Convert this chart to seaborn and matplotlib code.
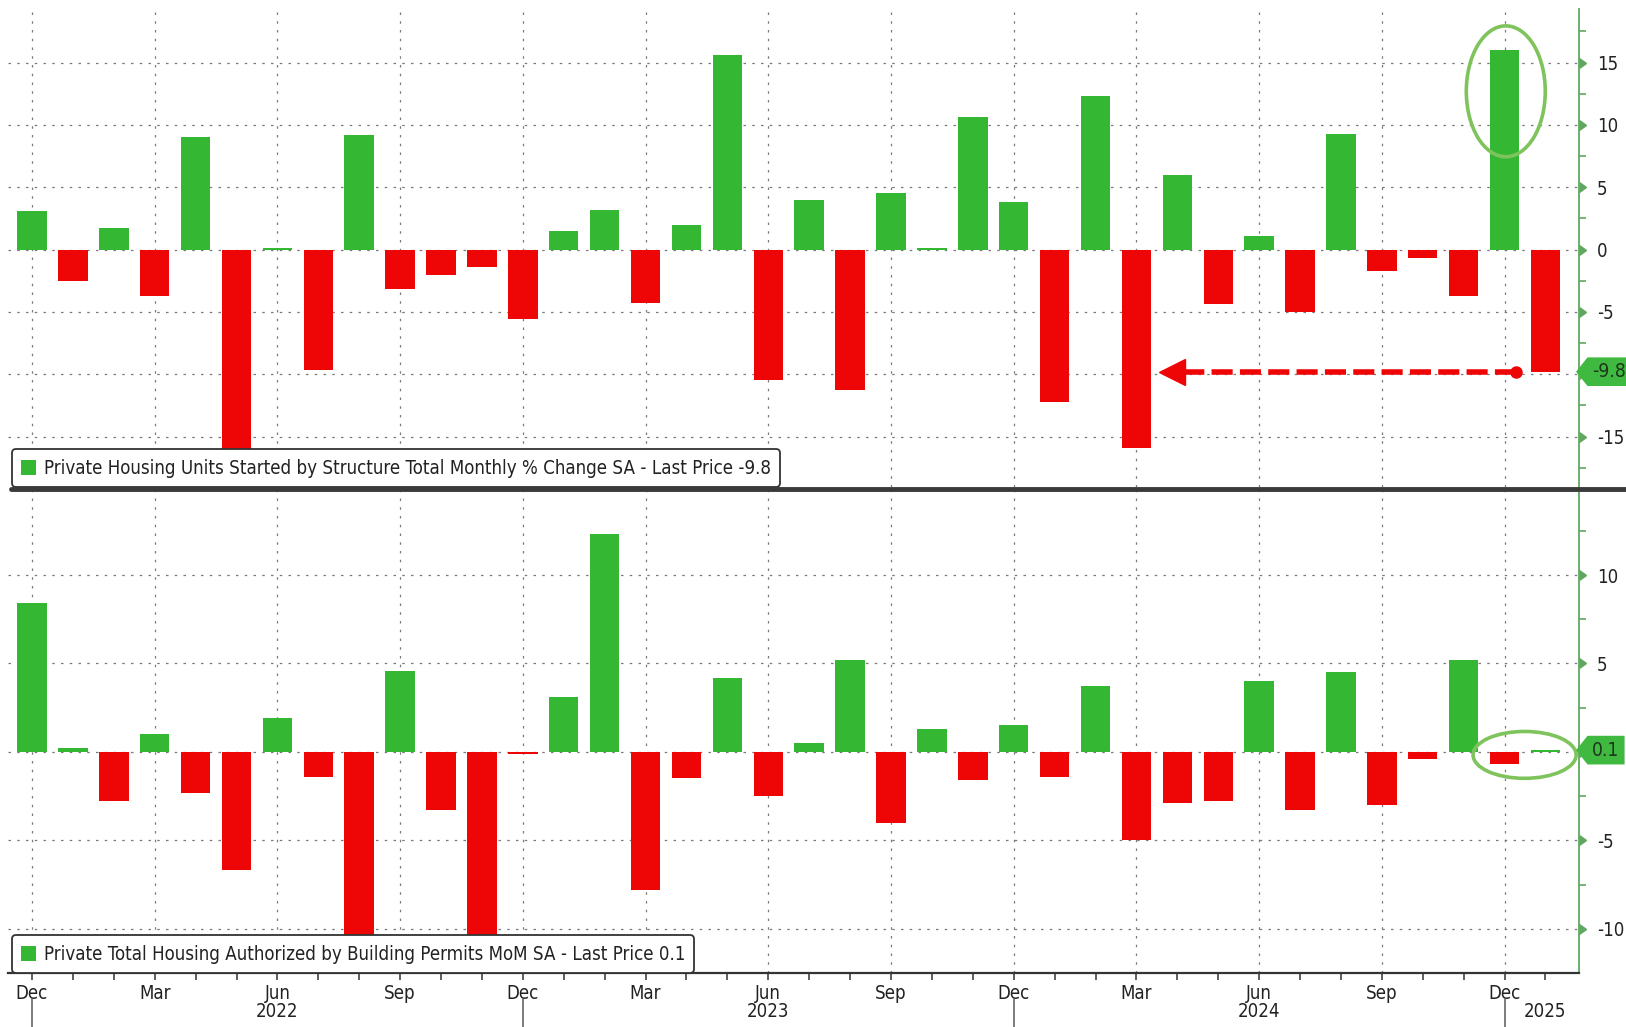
import os
import pandas as pd
import seaborn as sns
import matplotlib.pyplot as plt
import matplotlib.transforms as mtransforms
from matplotlib import font_manager
from matplotlib.patches import Ellipse, Patch
from matplotlib.lines import Line2D
from matplotlib.path import Path

# --- data ---
MONTHS = list(pd.date_range("2021-12-01", "2025-01-01", freq="MS"))
MONTH_KEYS = [m.strftime("%Y-%m") for m in MONTHS]

# housing starts, monthly % change SA
STARTS = [3.1, -2.5, 1.7, -3.7, 9.0, -16.5, 0.1, -9.7, 9.2, -3.2, -2.0, -1.4,
          -5.6, 1.5, 3.2, -4.3, 2.0, 15.6, -10.5, 4.0, -11.3, 4.5, 0.1, 10.6,
          3.8, -12.2, 12.3, -15.9, 6.0, -4.4, 1.1, -5.0, 9.3, -1.7, -0.7, -3.7,
          16.0, -9.8]

# building permits, MoM SA
PERMITS = [8.4, 0.2, -2.8, 1.0, -2.3, -6.7, 1.9, -1.4, -10.5, 4.6, -3.3, -11.0,
           -0.1, 3.1, 12.3, -7.8, -1.5, 4.2, -2.5, 0.5, 5.2, -4.0, 1.3, -1.6,
           1.5, -1.4, 3.7, -5.0, -2.9, -2.8, 4.0, -3.3, 4.5, -3.0, -0.4, 5.2,
           -0.7, 0.1]

STARTS_LABEL = "Private Housing Units Started by Structure Total Monthly % Change SA - Last Price -9.8"
PERMITS_LABEL = "Private Total Housing Authorized by Building Permits MoM SA - Last Price 0.1"

TOP_TICKS = [-15, -10, -5, 0, 5, 10, 15]
BOT_TICKS = [-10, -5, 0, 5, 10]
QUARTER_MONTHS = {12: "Dec", 3: "Mar", 6: "Jun", 9: "Sep"}

GREEN = "#34b834"
RED = "#ee0606"
AXIS_GREEN = "#5fa85f"
RING_GREEN = "#7fc35c"
TAG_GREEN = "#3fb93f"
TXT = "#222222"

sns.set_style("white")

# Bloomberg uses a narrow Tahoma-like face: prefer a condensed font if present
ttf = font_manager.fontManager.ttflist
has_cond = any(f.name == "DejaVu Sans" and
               os.path.basename(f.fname) == "DejaVuSansCondensed.ttf" for f in ttf)
has_narrow = any(f.name == "Liberation Sans Narrow" for f in ttf)
if has_cond:
    plt.rcParams["font.family"] = ["DejaVu Sans"]
    plt.rcParams["font.stretch"] = "condensed"
    FS = 13.4
elif has_narrow:
    plt.rcParams["font.family"] = ["Liberation Sans Narrow", "DejaVu Sans"]
    FS = 14.5
else:
    plt.rcParams["font.family"] = ["DejaVu Sans"]
    FS = 12.3

fig = plt.figure(figsize=(16.26, 10.27), dpi=100)
ax1 = fig.add_axes([0.0049, 0.5258, 0.9662, 0.4654])
ax2 = fig.add_axes([0.0049, 0.0526, 0.9662, 0.4693])

XLIM = (-0.587, 37.82)
quarter_idx = [i for i, m in enumerate(MONTHS) if m.month in QUARTER_MONTHS]
quarter_lbl = [QUARTER_MONTHS[MONTHS[i].month] for i in quarter_idx]


def tag_box(x0, y0, width, height, mutation_size):
    pad = 0.25 * mutation_size
    x0, y0 = x0 - pad, y0 - pad
    x1, y1 = x0 + width + 2 * pad, y0 + height + 2 * pad
    h = (y1 - y0) / 2
    return Path([(x0 - h * 0.8, y0 + h), (x0, y1), (x1, y1), (x1, y0),
                 (x0, y0), (x0 - h * 0.8, y0 + h)], closed=True)


def draw_panel(ax, values, ylim, ticks, hidden, label, last_txt):
    signs = ["up" if v >= 0 else "down" for v in values]
    sns.barplot(x=MONTH_KEYS, y=values, hue=signs, order=MONTH_KEYS,
                hue_order=["up", "down"], palette={"up": GREEN, "down": RED},
                dodge=False, width=0.72, saturation=1, linewidth=0,
                legend=False, ax=ax)
    ax.set_xlim(*XLIM)
    ax.set_ylim(*ylim)
    ax.set_xlabel("")
    ax.set_ylabel("")
    ax.set_axisbelow(True)

    # right-hand y axis, Bloomberg style (label under the last-value tag is hidden)
    ax.yaxis.tick_right()
    ax.set_yticks(ticks)
    ax.set_yticklabels(["" if t == hidden else str(t) for t in ticks])
    minor = [t + 2.5 for t in range(-20, 20, 5) if ylim[0] < t + 2.5 < ylim[1]]
    ax.set_yticks(minor, minor=True)
    ax.tick_params(axis="y", which="major", length=0, pad=13, labelsize=FS,
                   labelcolor=TXT)
    ax.tick_params(axis="y", which="minor", length=5, width=1.2, color=AXIS_GREEN,
                   right=True, left=False)
    btr = mtransforms.blended_transform_factory(ax.transAxes, ax.transData)
    ax.plot([1.0] * len(ticks), ticks, ls="none", marker=9, ms=7,
            color=AXIS_GREEN, transform=btr, clip_on=False)

    for s in ["left", "top"]:
        ax.spines[s].set_visible(False)
    ax.spines["right"].set_color(AXIS_GREEN)
    ax.spines["right"].set_linewidth(1.3)

    ax.set_xticks(quarter_idx)
    ax.grid(True, which="major", axis="both", color="#7a7a7a",
            ls=(0, (2, 5)), lw=0.9)

    leg = ax.legend(handles=[Patch(facecolor=GREEN, edgecolor="none")],
                    labels=[label], loc="lower left",
                    bbox_to_anchor=(0.0025, 0.0), borderaxespad=0,
                    fontsize=FS, handlelength=0.8, handleheight=0.9,
                    handletextpad=0.4, borderpad=0.5, fancybox=True,
                    framealpha=1, edgecolor="#333333")
    leg.get_frame().set_linewidth(1.3)
    for t in leg.get_texts():
        t.set_color(TXT)

    # last value tag on the axis
    ax.text(1.0085, values[-1], last_txt, transform=btr, ha="left",
            va="center", fontsize=FS + 0.5, color="#1d351d", clip_on=False,
            zorder=6, bbox=dict(boxstyle=tag_box, fc=TAG_GREEN, ec="none"))


# --- top panel: housing starts ---
draw_panel(ax1, STARTS, (-19.05, 19.3), TOP_TICKS, -10, STARTS_LABEL, "-9.8")
ax1.tick_params(axis="x", length=0, labelbottom=False)
ax1.spines["bottom"].set_visible(False)

last = len(STARTS) - 1
peak = STARTS.index(max(STARTS))
ax1.add_patch(Ellipse((peak + 0.03, 12.7), 1.93, 10.5, fill=False,
                      ec=RING_GREEN, lw=2.6, zorder=5))
mar24 = MONTH_KEYS.index("2024-03")
ax1.plot([last - 0.72, mar24 + 1.1], [STARTS[-1]] * 2, color=RED, lw=4,
         ls=(0, (3.8, 1.3)), dash_capstyle="butt", zorder=5)
ax1.plot([last - 0.72], [STARTS[-1]], marker="o", ms=8, color=RED, zorder=6)
ax1.plot([mar24 + 0.88], [STARTS[-1]], marker="<", ms=19, color=RED,
         mec=RED, zorder=6)

# --- bottom panel: building permits ---
draw_panel(ax2, PERMITS, (-12.5, 14.75), BOT_TICKS, 0, PERMITS_LABEL, "0.1")
ax2.set_xticks(range(len(MONTHS)), minor=True)
ax2.set_xticklabels(quarter_lbl)
ax2.tick_params(axis="x", which="both", length=5, width=1.1, color="#333333",
                direction="out", pad=3, labelsize=FS, labelcolor=TXT,
                bottom=True)
ax2.spines["bottom"].set_color("#333333")
ax2.spines["bottom"].set_linewidth(1.6)
ax2.add_patch(Ellipse((last - 0.51, -0.17), 2.52, 2.65, fill=False,
                      ec=RING_GREEN, lw=2.6, zorder=5))

bx = mtransforms.blended_transform_factory(ax2.transData, ax2.transAxes)
for i, m in enumerate(MONTHS):
    if m.month == 6:
        ax2.text(i, -0.079, str(m.year), transform=bx, ha="center",
                 va="center", fontsize=FS, color=TXT)
    if m.month == 12:
        ax2.plot([i, i], [-0.054, -0.115], color="#666666", lw=1.2,
                 transform=bx, clip_on=False)
ax2.text(last, -0.079, str(MONTHS[-1].year), transform=bx, ha="center",
         va="center", fontsize=FS, color=TXT)

# panel separator
fig.add_artist(Line2D([0.007, 1.0], [0.5238, 0.5238], transform=fig.transFigure,
                      color="#3a3a3a", lw=3.5))

fig.savefig("out.png", dpi=100)
